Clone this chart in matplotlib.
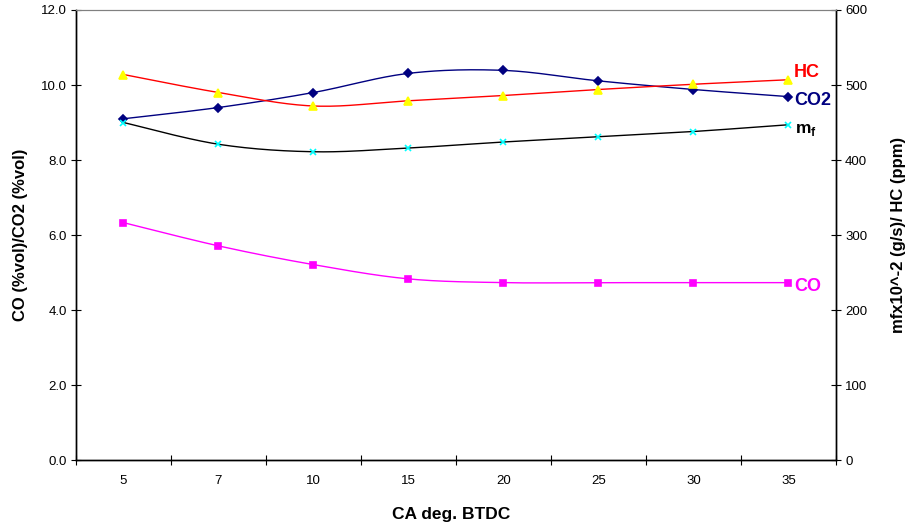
import numpy as np
import matplotlib
matplotlib.use('Agg')
import matplotlib.pyplot as plt

plt.rcParams['font.family'] = ['Liberation Sans', 'DejaVu Sans']
plt.rcParams['mathtext.fontset'] = 'custom'
plt.rcParams['mathtext.rm'] = 'Liberation Sans'
plt.rcParams['mathtext.bf'] = 'Liberation Sans:bold'

# crank angle categories (deg BTDC)
ca_labels = ['5', '7', '10', '15', '20', '25', '30', '35']

# left axis: % vol
co2 = [9.10, 9.40, 9.80, 10.31, 10.39, 10.11, 9.88, 9.69]
co = [6.33, 5.71, 5.21, 4.83, 4.73, 4.73, 4.73, 4.73]

# right axis: HC (ppm) and mf x10^-2 (g/s)
hc = [514, 490, 472, 479, 486, 494, 501, 507]
mf = [450, 421, 411, 416, 424, 431, 438, 447]


def smooth(x, y, n=30):
    """
    Catmull-Rom curve through the points, close to the excel 'smoothed line'.
    """
    x = np.asarray(x, float)
    y = np.asarray(y, float)
    px = np.concatenate([[x[0]], x, [x[-1]]])
    py = np.concatenate([[y[0]], y, [y[-1]]])
    xs, ys = [], []
    t = np.linspace(0, 1, n)
    for i in range(1, len(px) - 2):
        for p, out in ((px, xs), (py, ys)):
            p0, p1, p2, p3 = p[i - 1], p[i], p[i + 1], p[i + 2]
            out.extend(0.5 * (2 * p1 + (-p0 + p2) * t
                              + (2 * p0 - 5 * p1 + 4 * p2 - p3) * t ** 2
                              + (-p0 + 3 * p1 - 3 * p2 + p3) * t ** 3))
    return xs, ys


fig = plt.figure(figsize=(9.08, 5.29), dpi=100)
ax = fig.add_axes([0.0837, 0.1304, 0.8370, 0.8507])
ax2 = ax.twinx()

pos = np.arange(len(ca_labels))

series = [
    (ax, co2, '#000080', '#000080', 'D', 4.5),
    (ax, co, '#FF00FF', '#FF00FF', 's', 4.5),
    (ax2, hc, '#FF0000', '#FFFF00', '^', 6),
    (ax2, mf, '#000000', '#00FFFF', 'x', 5),
]
for axis, values, line_color, marker_color, marker, size in series:
    sx, sy = smooth(pos, values)
    axis.plot(sx, sy, color=line_color, lw=1.0, zorder=3)
    axis.plot(pos, values, ls='none', marker=marker, ms=size,
              color=marker_color, mec=marker_color, mew=1.2, zorder=4)

ax.set_xlim(-0.5, len(ca_labels) - 0.5)
ax.set_ylim(0, 12)
ax2.set_ylim(0, 600)

ax.set_xticks(pos)
ax.set_xticklabels(ca_labels)
ax.tick_params(axis='x', which='major', length=0, pad=11, labelsize=9.5)
ax.set_xticks(np.arange(-0.5, len(ca_labels)), minor=True)
ax.tick_params(axis='x', which='minor', direction='inout', length=7, width=0.8)

ax.set_yticks(np.arange(0, 12.1, 2))
ax.set_yticklabels([f'{v:.1f}' for v in np.arange(0, 12.1, 2)])
ax.tick_params(axis='y', direction='inout', length=7, width=0.8, labelsize=9.5, pad=3)
ax2.set_yticks(np.arange(0, 601, 100))
ax2.tick_params(axis='y', direction='inout', length=7, width=0.8, labelsize=9.5, pad=3)

for a in (ax, ax2):
    a.spines['top'].set_color('#808080')
    a.spines['top'].set_linewidth(0.8)
    for side in ('left', 'right', 'bottom'):
        a.spines[side].set_linewidth(1.0)

fig.text(0.497, 1 - 515 / 529, 'CA deg. BTDC', fontsize=12.5, fontweight='bold',
         ha='center', va='center')
fig.text(0.023, 0.556, 'CO (%vol)/CO2 (%vol)', fontsize=12, fontweight='bold',
         rotation=90, ha='center', va='center')
fig.text(0.989, 0.556, 'mfx10^-2 (g/s)/ HC (ppm)', fontsize=12, fontweight='bold',
         rotation=90, ha='center', va='center')

last = pos[-1]
ax2.annotate('HC', (last, hc[-1]), xytext=(4, 5), textcoords='offset points',
             color='#FF0000', fontsize=13, fontweight='bold', va='center')
ax.annotate('CO2', (last, co2[-1]), xytext=(4, -3), textcoords='offset points',
            color='#000080', fontsize=13, fontweight='bold', va='center')
ax2.annotate(r'$\mathbf{m}_\mathbf{f}$', (last, mf[-1]), xytext=(5, -4),
             textcoords='offset points', color='black', fontsize=12.5, va='center')
ax.annotate('CO', (last, co[-1]), xytext=(4, -3), textcoords='offset points',
            color='#FF00FF', fontsize=13, fontweight='bold', va='center')

fig.savefig('out.png', dpi=100)
